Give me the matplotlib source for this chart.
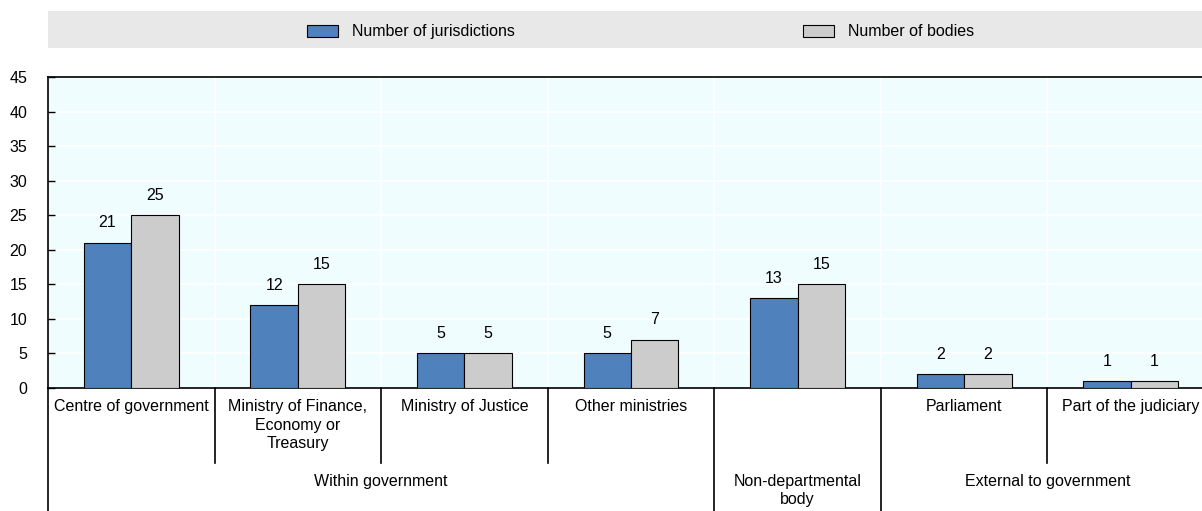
import matplotlib.pyplot as plt
import matplotlib.transforms as mtransforms
from matplotlib.lines import Line2D
from matplotlib.patches import Rectangle
import numpy as np

plt.rcParams["font.family"] = ["Liberation Sans", "DejaVu Sans"]

categories = ["Centre of government", "Ministry of Finance,\nEconomy or\nTreasury",
              "Ministry of Justice", "Other ministries", "",
              "Parliament", "Part of the judiciary"]
groups = ["Within government", "Non-departmental\nbody", "External to government"]
group_spans = [(0, 3), (4, 4), (5, 6)]
jurisdictions = [21, 12, 5, 5, 13, 2, 1]
bodies = [25, 15, 5, 7, 15, 2, 1]
series_names = ["Number of jurisdictions", "Number of bodies"]

BLUE = "#4F81BD"
GREY = "#CCCCCC"
W, H = 1202, 511
FS = 11.5

fig = plt.figure(figsize=(W / 100, H / 100), dpi=100)
# axes: left 48px, right ~1214px (runs past the edge), top 77px, bottom 388px
ax = fig.add_axes([48 / W, 1 - 388 / H, (1214 - 48) / W, (388 - 77) / H])
ax.set_facecolor("#F0FDFF")

x = np.arange(len(categories))
bw = 0.285
b1 = ax.bar(x - bw / 2, jurisdictions, bw, color=BLUE, edgecolor="black", linewidth=0.8, zorder=3)
b2 = ax.bar(x + bw / 2, bodies, bw, color=GREY, edgecolor="black", linewidth=0.8, zorder=3)
for bars, vals in ((b1, jurisdictions), (b2, bodies)):
    for r, v in zip(bars, vals):
        ax.annotate(str(v), (r.get_x() + r.get_width() / 2, v), xytext=(0, 9),
                    textcoords="offset points", ha="center", va="bottom", fontsize=FS)

ax.set_xlim(-0.5, len(categories) - 0.5)
ax.set_ylim(0, 45)
ax.set_yticks(range(0, 46, 5))
ax.set_xticks(np.arange(-0.5, len(categories), 1.0), minor=False)
ax.set_xticklabels([])
ax.tick_params(axis="x", length=0)
ax.tick_params(axis="y", direction="in", length=5, width=1, labelsize=FS, pad=15)
ax.grid(True, color="white", linewidth=1.2, zorder=0)
ax.spines["right"].set_visible(False)
for s in ("left", "top", "bottom"):
    ax.spines[s].set_linewidth(1.2)

# multi-level category axis
trans = mtransforms.blended_transform_factory(ax.transData, ax.transAxes)
ah = 388 - 77
y_lvl1 = -(399 - 388) / ah
y_mid = -(463 - 388) / ah
y_bot = -(H - 388) / ah
y_lvl2 = -(474 - 388) / ah

for i, lab in enumerate(categories):
    if lab:
        ax.text(i, y_lvl1, lab, transform=trans, ha="center", va="top",
                fontsize=FS, linespacing=1.3)
for i in range(len(categories)):
    xb = i - 0.5
    bottom = y_bot if xb in (-0.5, 3.5, 4.5) else y_mid
    ax.add_line(Line2D([xb, xb], [0, bottom], transform=trans, color="black",
                       linewidth=1.2, clip_on=False))
for lab, (a, b) in zip(groups, group_spans):
    ax.text((a + b) / 2, y_lvl2, lab, transform=trans, ha="center", va="top",
            fontsize=FS, linespacing=1.25)

# legend band
fig.patches.append(Rectangle((48 / W, 1 - 48 / H), (W - 48) / W, 37 / H,
                             transform=fig.transFigure, facecolor="#E8E8E8",
                             edgecolor="none", zorder=0))
for (px, name, col) in ((307, series_names[0], BLUE), (803, series_names[1], GREY)):
    fig.patches.append(Rectangle((px / W, 1 - 37 / H), 31 / W, 12 / H,
                                 transform=fig.transFigure, facecolor=col,
                                 edgecolor="black", linewidth=0.8))
    fig.text((px + 45) / W, 1 - 31 / H, name, ha="left", va="center", fontsize=FS)

fig.savefig("out.png", dpi=100)
